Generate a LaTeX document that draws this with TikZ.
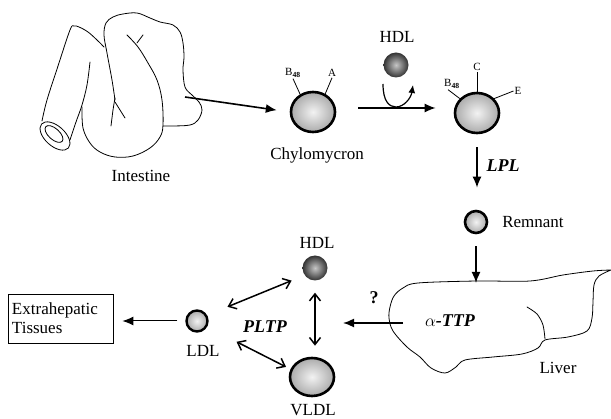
\documentclass[tikz,border=0pt]{standalone}
\usepackage{fontspec}
\setmainfont{Liberation Serif}
\usetikzlibrary{arrows.meta,positioning,calc,shapes.geometric}
\tikzset{
  sig/.style     = {-{Latex[length=11pt,width=9pt]}, line width=1.6pt},
  dsig/.style    = {{Straight Barb[length=7pt,width=11pt]}-{Straight Barb[length=7pt,width=11pt]},
                    line width=1.5pt},
  curl/.style    = {-{Latex[length=8pt,width=7pt]}, line width=1.2pt},
  lipid/.style   = {draw, ellipse, line width=2.6pt, inner sep=0pt,
                    inner color=black!5, outer color=black!33},
  hdlball/.style = {circle, inner sep=0pt, minimum size=25pt,
                    inner color=black!22, outer color=black!80},
  apo/.style     = {font=\fontsize{11}{11}\selectfont, inner sep=1pt},
  tag/.style     = {font=\fontsize{17}{19}\selectfont, inner sep=1pt},
  enz/.style     = {font=\fontsize{18}{19}\selectfont\bfseries\itshape, inner sep=1pt},
  organ/.style   = {line width=0.8pt, line join=round, line cap=round},
}

\begin{document}
\begin{tikzpicture}[x=1pt,y=-1pt]
\useasboundingbox (0,0) rectangle (611,419);

% intestine
\draw[organ] plot[smooth, tension=0.6] coordinates {(42,121) (47,100) (58,66) (70,30) (74,26) (79,27) (88,32) (97,40) (104,47)};
\draw[organ] plot[smooth, tension=0.6] coordinates {(90,62) (87,85) (82,105) (76,122) (70,140)};
\draw[organ, rotate around={-42:(55,136)}] (55,136) ellipse [x radius=18, y radius=10];
\draw[organ, rotate around={-42:(54,134)}] (54,134) ellipse [x radius=11, y radius=5.5];
\draw[organ] plot[smooth, tension=0.6] coordinates {(82,107) (83,128) (90,143) (100,152) (115,157) (133,156) (150,148) (160,137) (163,125) (162,100) (157,80) (148,63) (138,47) (127,35)};
\draw[organ] (137,43) -- (143,35);
\draw[organ] plot[smooth, tension=0.6] coordinates {(115,100) (112,80) (107,53) (104,35) (106,23) (113,17) (123,14) (137,13) (150,18) (160,22) (173,25) (180,32) (183,43) (184,57) (183,70) (185,87) (192,95) (199,102) (202,110) (198,120) (190,125) (173,126) (163,126)};
\draw[organ] plot[smooth] coordinates {(115,98) (113,110) (111,126)};
\draw[organ] plot[smooth] coordinates {(115,102) (120,110) (125,118)};
\coordinate (gut) at (185,97);
\node[tag] (intestine) at (141,176) {Intestine};

% chylomicron and its remodelling
\node[lipid, minimum width=44pt, minimum height=40pt] (chylo) at (313,112) {};
\node[tag] at (317,155) {Chylomycron};
\node[apo] (b48a) at (293,73) {B\textsubscript{\textbf{48}}};
\node[apo] (apoa) at (332,73) {A};
\draw[line width=0.8pt] (chylo.126) -- (b48a.south);
\draw[line width=0.8pt] (chylo.56) -- (apoa.south);
\draw[sig, shorten >=13pt] (gut) -- (chylo.west);

\node[hdlball] (hdl1) at (396,65) {};
\node[tag] at (397,37) {HDL};
\draw[curl] ($(hdl1)+(-13,19)$) .. controls ($(hdl1)+(-13,36)$) and ($(hdl1)+(-7,42)$) .. ($(hdl1)+(0,42)$)
  .. controls ($(hdl1)+(8,42)$) and ($(hdl1)+(15,33)$) .. ($(hdl1)+(17,20)$);

\node[lipid, minimum width=44pt, minimum height=40pt] (chyloE) at (477,113) {};
\node[apo] (apoc) at (477,67) {C};
\node[apo] (b48b) at (452,84) {B\textsubscript{\textbf{48}}};
\node[apo] (apoe) at (518,91) {E};
\draw[line width=0.8pt] (chyloE.north) -- (apoc.south);
\draw[line width=0.8pt] (chyloE.140) -- ([xshift=-4pt]b48b.south);
\draw[line width=0.8pt] (chyloE.40) -- (apoe.west);
\draw[sig, shorten <=22pt, shorten >=18pt] ([yshift=4pt]chylo.east) -- ([yshift=4pt]chylo.east -| chyloE.west);

\node[lipid, minimum width=22pt, minimum height=22pt] (remn) at (476,222) {};
\node[tag] at (533,222) {Remnant};
\draw[sig, shorten <=13pt, shorten >=22pt] (chyloE.south) -- (chyloE.south |- remn.north);
\node[enz] (lpl) at (503,166) {LPL};

% liver
\draw[organ] plot[smooth, tension=0.55] coordinates {(611,270) (599,276) (594,285) (593,302) (592,318) (587,331) (568,337) (545,340) (538,348) (522,354) (493,357) (465,360) (456,367) (445,373) (431,368) (420,357) (407,347) (393,331) (389,318) (390,307) (394,296) (403,288) (418,283) (477,281) (530,281) (563,275) (593,271) (611,270)};
\draw[organ] plot[smooth] coordinates {(527,307) (537,314) (543,325) (545,339)};
\node[tag] at (558,368) {Liver};
\node[enz] (ttp) at (450,321) {$\mathbf{\alpha}$-TTP};
\coordinate (livtop) at (476,283);
\draw[sig, shorten <=12pt] (remn.south) -- (livtop);
\coordinate (livout) at (403,323);
\coordinate (pltpin) at (343,323);
\draw[sig] (livout) -- (pltpin);
\node[tag, font=\fontsize{18}{19}\selectfont\bfseries] at (374,298) {?};

% exchange between lipoproteins
\node[lipid, line width=2.4pt, minimum width=21pt, minimum height=21pt] (ldl) at (197,321) {};
\node[tag] at (203,351) {LDL};
\node[hdlball] (hdl2) at (315,268) {};
\node[tag] at (317,243) {HDL};
\node[lipid, minimum width=44pt, minimum height=38pt] (vldl) at (312,377) {};
\node[tag] at (313,410) {VLDL};
\node[enz] (pltp) at (265,327) {PLTP};
\draw[dsig, shorten <=22pt, shorten >=14pt] (ldl.30) -- (hdl2.215);
\draw[dsig, shorten <=33pt, shorten >=5pt] (ldl.-30) -- (vldl.160);
\draw[dsig, shorten <=12pt, shorten >=11pt] (hdl2.south) -- (hdl2.south |- vldl.north);

\node[tag, draw, line width=0.8pt, align=left, text width=97pt, inner sep=4pt,
      minimum height=49pt] (tis) at (60.5,318.5) {Extrahepatic\\Tissues};
\draw[sig, line width=1pt, shorten <=8pt, shorten >=9pt] (ldl.west) -- (ldl.west -| tis.east);
\end{tikzpicture}
\end{document}
